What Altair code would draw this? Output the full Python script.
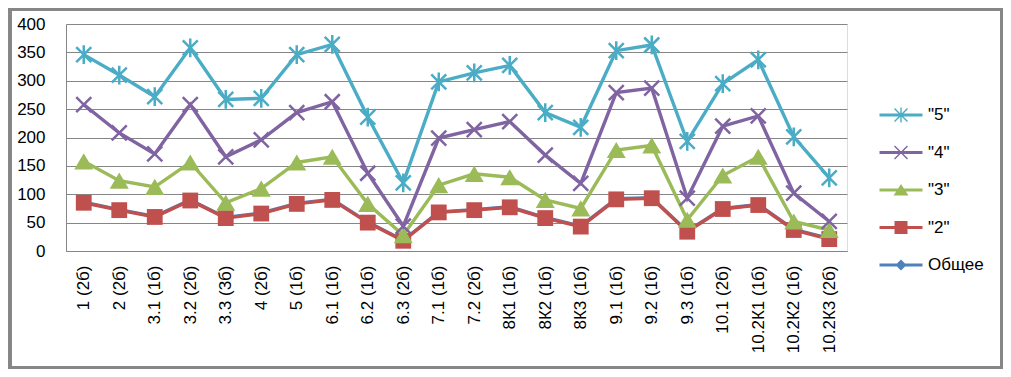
import altair as alt
import pandas as pd

cats = ["1 (2б)", "2 (2б)", "3.1 (1б)", "3.2 (2б)", "3.3 (3б)", "4 (2б)", "5 (1б)",
        "6.1 (1б)", "6.2 (1б)", "6.3 (2б)", "7.1 (1б)", "7.2 (2б)", "8К1 (1б)",
        "8К2 (1б)", "8К3 (1б)", "9.1 (1б)", "9.2 (1б)", "9.3 (1б)", "10.1 (2б)",
        "10.2К1 (1б)", "10.2К2 (1б)", "10.2К3 (2б)"]

s5 = [346, 310, 272, 358, 267, 269, 346, 364, 236, 120, 298, 314, 327, 244, 218, 353, 363, 193, 295, 337, 201, 129]
s4 = [258, 208, 171, 258, 166, 196, 244, 263, 137, 44, 199, 214, 228, 169, 119, 279, 287, 93, 220, 238, 102, 52]
s3 = [158, 124, 113, 156, 85, 110, 156, 166, 83, 28, 116, 136, 130, 90, 75, 178, 186, 55, 133, 166, 52, 37]
s2 = [85, 72, 60, 89, 58, 66, 83, 90, 50, 18, 68, 72, 77, 58, 43, 91, 93, 34, 74, 81, 37, 21]
total = [86, 73, 61, 90, 59, 67, 84, 91, 51, 19, 69, 73, 78, 59, 44, 92, 94, 35, 75, 82, 38, 22]

series_names = ['"5"', '"4"', '"3"', '"2"', "Общее"]
series_vals = [s5, s4, s3, s2, total]
colors = ["#4BACC6", "#8064A2", "#9BBB59", "#C0504D", "#4F81BD"]

rows = []
for name, vals in zip(series_names, series_vals):
    for c, v in zip(cats, vals):
        rows.append({"cat": c, "series": name, "val": v})
df = pd.DataFrame(rows)

W, H = 781, 227
GRID = "#868686"

x_enc = alt.X("cat:N", sort=cats, scale=alt.Scale(type="point", padding=0.5),
              axis=alt.Axis(title=None, labelAngle=-90, labelAlign="right", labelBaseline="middle",
                            labelFontSize=17, labelPadding=14, ticks=False, domainColor=GRID,
                            domainWidth=1, grid=False, labelColor="#000000", labelFont="Liberation Sans"))
y_enc = alt.Y("val:Q", scale=alt.Scale(domain=[0, 400], nice=False),
              axis=alt.Axis(title=None, values=list(range(0, 401, 50)), grid=True, gridColor=GRID,
                            gridOpacity=1, domainColor=GRID, ticks=False, labelPadding=21,
                            labelFontSize=17, labelColor="#000000", labelFont="Liberation Sans"))

# plot marker shapes
X_PATH = "M-1,-1L1,1M-1,1L1,-1"
STAR_PATH = "M-1,-1L1,1M-1,1L1,-1M0,-1.25L0,1.25"
TRI_PATH = "M0,-0.85L1,0.85L-1,0.85Z"

marker_spec = {
    '"5"': dict(shape=STAR_PATH, filled=False, size=225, strokeWidth=2.5),
    '"4"': dict(shape=X_PATH, filled=False, size=225, strokeWidth=2.5),
    '"3"': dict(shape=TRI_PATH, filled=True, size=361, strokeWidth=0),
    '"2"': dict(shape="square", filled=True, size=250, strokeWidth=0),
    "Общее": dict(shape="diamond", filled=True, size=90, strokeWidth=0),
}

base = alt.Chart(df).encode(x=x_enc, y=y_enc)

layers = []
# chart-area border
layers.append(alt.Chart(df).mark_rect(fill=None, stroke=GRID, strokeWidth=2.5).encode(
    x=alt.value(-56), x2=alt.value(W + 155), y=alt.value(-15), y2=alt.value(H + 117)))

draw_order = ["Общее", '"2"', '"3"', '"4"', '"5"']
for name in draw_order:
    col = colors[series_names.index(name)]
    sub = base.transform_filter(alt.datum.series == name)
    layers.append(sub.mark_line(color=col, strokeWidth=3.4))
    m = marker_spec[name]
    if m["filled"]:
        layers.append(sub.mark_point(shape=m["shape"], filled=True, fill=col, size=m["size"],
                                     opacity=1, strokeWidth=0))
    else:
        layers.append(sub.mark_point(shape=m["shape"], filled=False, stroke=col, size=m["size"],
                                     opacity=1, strokeWidth=m["strokeWidth"]))

# legend symbols: line + marker, as filled polygons (unit = 10px)
LINE = "M-2.15,-0.15L2.15,-0.15L2.15,0.15L-2.15,0.15Z"
XBARS = ("M-0.6,-0.7L0.7,0.6L0.6,0.7L-0.7,-0.6Z"
         "M-0.7,0.6L0.6,-0.7L0.7,-0.6L-0.6,0.7Z")
leg_paths = [
    LINE + XBARS + "M-0.07,-0.75L0.07,-0.75L0.07,0.75L-0.07,0.75Z",
    LINE + XBARS,
    LINE + "M0,-0.6L0.75,0.55L-0.75,0.55Z",
    LINE + "M-0.65,-0.65L0.65,-0.65L0.65,0.65L-0.65,0.65Z",
    LINE + "M0,-0.55L0.55,0L0,0.55L-0.55,0Z",
]

legend_layer = base.transform_filter("false").mark_point(filled=True, opacity=1, size=400).encode(
    color=alt.Color("series:N", scale=alt.Scale(domain=series_names, range=colors),
                    legend=alt.Legend(title=None, orient="none", legendX=W + 44, legendY=81,
                                      labelFontSize=17, labelFont="Liberation Sans",
                                      labelColor="#000000", rowPadding=19.5, labelOffset=17,
                                      symbolSize=400, symbolOpacity=1, padding=0,
                                      symbolStrokeWidth=0)),
    shape=alt.Shape("series:N", scale=alt.Scale(domain=series_names, range=leg_paths)),
)
layers.append(legend_layer)

chart = alt.layer(*layers).properties(
    width=W, height=H,
    autosize=alt.AutoSizeParams(type="none"),
    padding={"left": 58, "top": 16, "right": 156, "bottom": 118},
).configure_view(stroke=None).configure(background="#ffffff")

chart.save("out.html", embed_options={"renderer": "svg", "actions": False})
